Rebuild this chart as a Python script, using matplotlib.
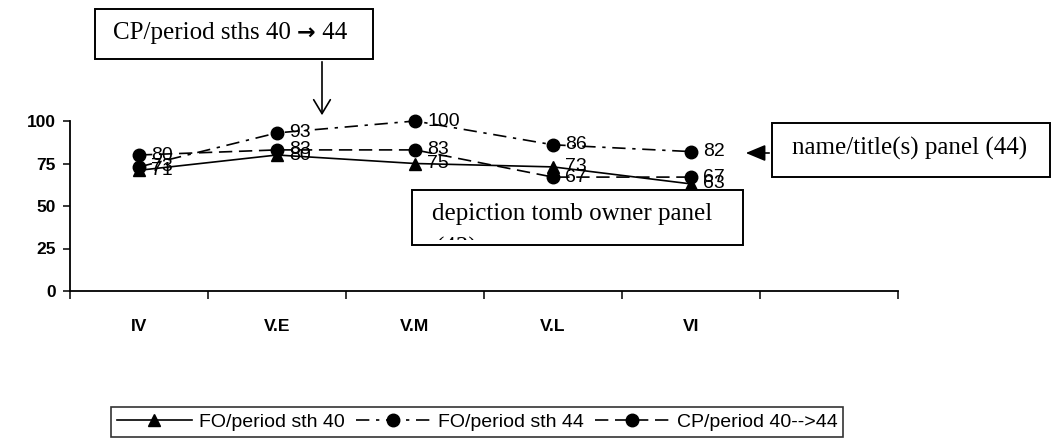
import matplotlib
matplotlib.use("Agg")
import matplotlib.pyplot as plt
from matplotlib.patches import Rectangle, FancyArrowPatch

categories = ["IV", "V.E", "V.M", "V.L", "VI"]
fo_sth40 = [71, 80, 75, 73, 63]
fo_sth44 = [73, 93, 100, 86, 82]
cp_40_44 = [80, 83, 83, 67, 67]
yticks = [0, 25, 50, 75, 100]

W, H = 1058, 445
fig = plt.figure(figsize=(W/100, H/100), dpi=100)
ax = fig.add_axes([70/W, 1-291/H, (898-70)/W, (291-121)/H])

x = [i + 0.5 for i in range(len(categories))]
sans = "Liberation Sans"
serif = "Liberation Serif"

ax.plot(x, fo_sth40, color="black", lw=1.2, marker="^", ms=9, ls="-",
        label="FO/period sth 40", clip_on=False, zorder=3)
ax.plot(x, fo_sth44, color="black", lw=1.2, marker="o", ms=9,
        ls=(0, (8, 4, 2, 4)), label="FO/period sth 44", clip_on=False, zorder=3)
ax.plot(x, cp_40_44, color="black", lw=1.2, marker="o", ms=9,
        ls=(0, (8, 4)), label="CP/period 40-->44", clip_on=False, zorder=3)

for series in (fo_sth40, fo_sth44, cp_40_44):
    for xi, v in zip(x, series):
        ax.annotate(str(v), (xi, v), xytext=(9, 0), textcoords="offset points",
                    va="center", ha="left", fontsize=14, family=sans, zorder=4)

ax.set_xlim(0, 6)
ax.set_ylim(0, 100)
ax.set_yticks(yticks)
ax.set_yticklabels([str(t) for t in yticks], fontsize=12.5, fontweight="bold", family=sans)
ax.set_xticks(range(0, 7))
ax.set_xticklabels([])
ax.set_xticks(x, minor=True)
ax.set_xticklabels(categories, minor=True, fontsize=12.5, fontweight="bold", family=sans)
ax.tick_params(axis="x", which="minor", length=0, pad=20)
ax.tick_params(axis="x", which="major", direction="out", length=6, width=1.1)
ax.tick_params(axis="y", direction="out", length=5, width=1.1, pad=5)
for s in ("top", "right"):
    ax.spines[s].set_visible(False)
for s in ("left", "bottom"):
    ax.spines[s].set_linewidth(1.3)

leg = fig.legend(loc="center left", bbox_to_anchor=(111/W, 1-422/H), ncol=3,
                 frameon=True, fancybox=False, edgecolor="black",
                 prop={"family": sans, "size": 14}, handlelength=3.86,
                 columnspacing=0.57, handletextpad=0.36, borderpad=0.3,
                 borderaxespad=0)
leg.get_frame().set_linewidth(1.2)

def px(xp, yp):
    return xp/W, 1-yp/H

def rect(x0, y0, x1, y1):
    r = Rectangle(px(x0, y1), (x1-x0)/W, (y1-y0)/H, transform=fig.transFigure,
                  facecolor="white", edgecolor="black", lw=1.4, zorder=5)
    fig.add_artist(r)
    return r

renderer = fig.canvas.get_renderer()

rect(95, 9, 373, 59)
parts = [("CP/period sths 40 ", serif, "normal", 18),
         ("\u2192", "DejaVu Sans", "bold", 16),
         (" 44", serif, "normal", 18)]
cx = 113
for txt, fam, wt, fs in parts:
    t = fig.text(*px(cx, 33), txt, family=fam, fontweight=wt, fontsize=fs,
                 va="center", ha="left", zorder=6)
    bb = t.get_window_extent(renderer=renderer)
    cx += bb.width
fig.add_artist(FancyArrowPatch(px(322, 59), px(322, 118),
               transform=fig.transFigure, arrowstyle="->,head_length=10,head_width=6",
               mutation_scale=1, color="black", lw=1.2, zorder=6))

rect(772, 123, 1050, 177)
fig.text(*px(792, 148), "name/title(s) panel (44)", family=serif, fontsize=18,
         va="center", ha="left", zorder=6)
fig.add_artist(FancyArrowPatch(px(772, 153), px(743, 153),
               transform=fig.transFigure, arrowstyle="-|>,head_length=12,head_width=5",
               mutation_scale=1, color="black", lw=1.2, zorder=6))

rect(412, 190, 743, 245)
fig.text(*px(432, 214), "depiction tomb owner panel", family=serif, fontsize=18,
         va="center", ha="left", zorder=6)
clip = Rectangle(px(413, 240), (741-413)/W, (240-191)/H, transform=fig.transFigure,
                 visible=False)
fig.add_artist(clip)
t2 = fig.text(*px(436, 248), "(43)", family=serif, fontsize=18,
              va="center", ha="left", zorder=6)
t2.set_clip_path(clip)

fig.savefig("out.png", dpi=100, facecolor="white")
